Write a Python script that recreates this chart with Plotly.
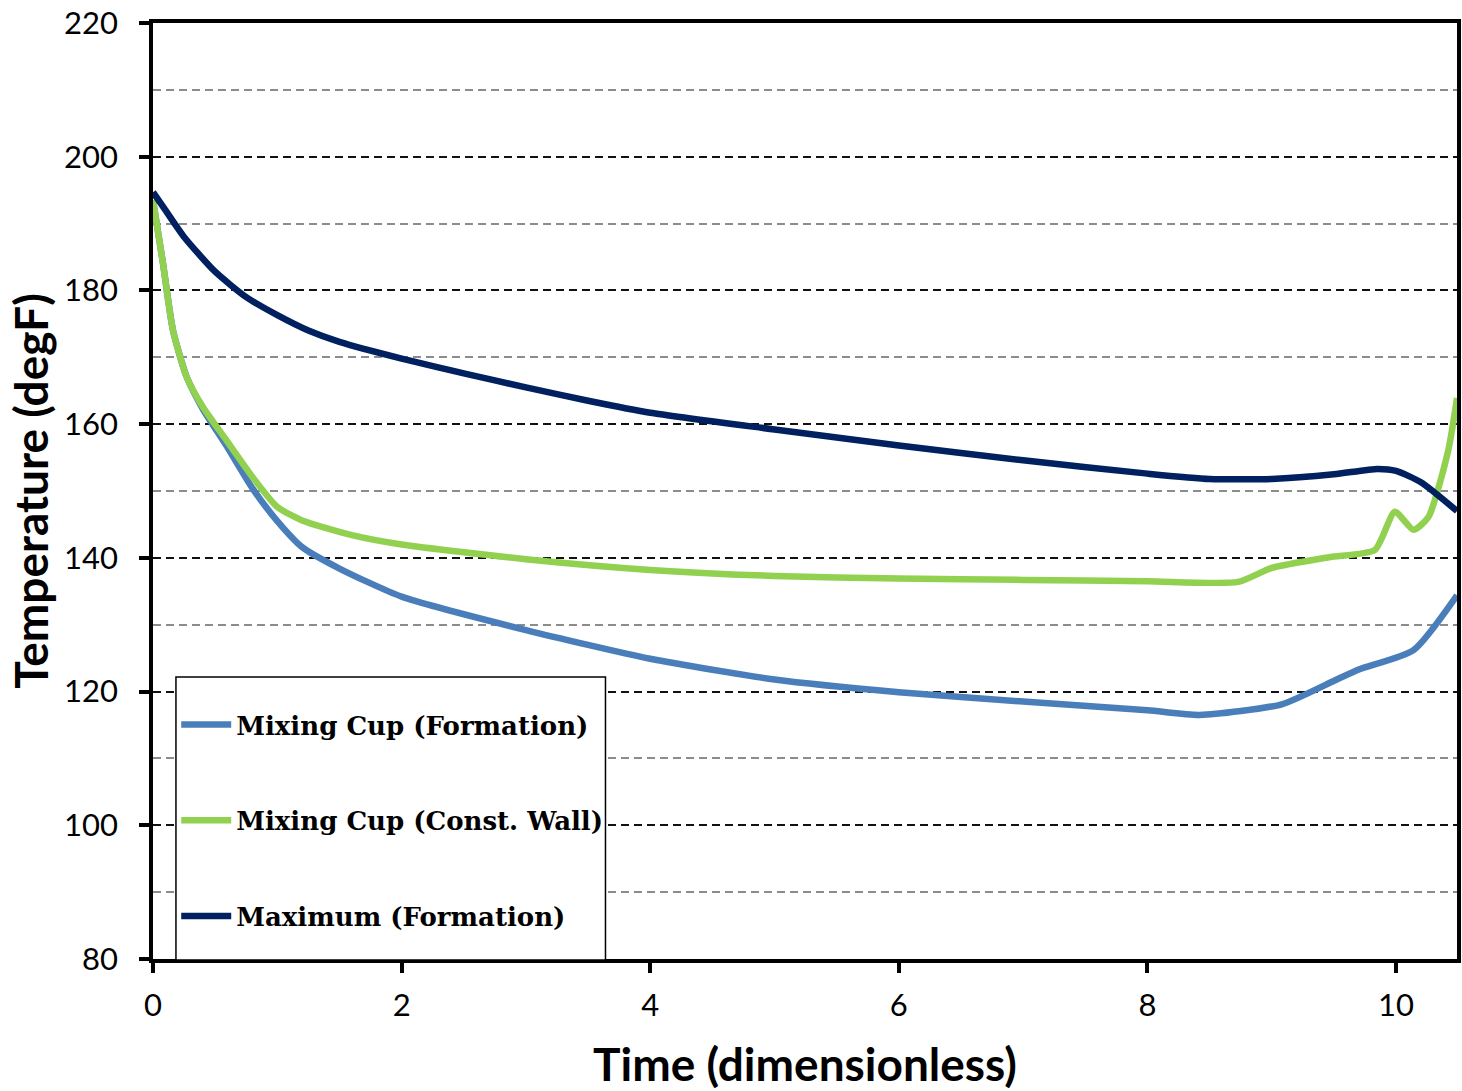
import plotly.graph_objects as go

# Maximum (Formation)
x_max = [0, 0.1, 0.25, 0.5, 0.75, 1.0, 1.25, 1.5, 2.0, 2.5, 3.0, 3.5, 4.0, 5.0, 6.0, 7.0, 8.0, 8.5, 9.0, 9.5, 9.85, 10.0, 10.2, 10.49]
y_max = [194.7, 192.0, 188.0, 182.8, 179.0, 176.3, 174.0, 172.3, 169.8, 167.6, 165.5, 163.5, 161.7, 159.2, 156.8, 154.6, 152.6, 151.8, 151.8, 152.5, 153.3, 153.0, 151.3, 147.0]

# Mixing Cup (Const. Wall)
x_cw = [0, 0.08, 0.16, 0.27, 0.4, 0.59, 0.8, 1.0, 1.2, 1.6, 2.0, 3.0, 4.0, 5.0, 6.0, 7.0, 8.0, 8.73, 9.0, 9.46, 9.83, 9.99, 10.14, 10.26, 10.42, 10.49]
y_cw = [193.5, 184.1, 174.1, 167.1, 162.6, 157.6, 152.1, 147.6, 145.6, 143.4, 142.0, 139.8, 138.2, 137.3, 136.9, 136.7, 136.5, 136.4, 138.5, 140.1, 141.2, 146.9, 144.2, 146.1, 156.1, 163.9]

# Mixing Cup (Formation)
x_mf = [0, 0.08, 0.16, 0.27, 0.4, 0.59, 0.8, 1.0, 1.2, 1.5, 2.0, 3.0, 4.0, 5.0, 6.0, 7.0, 8.0, 8.42, 9.08, 9.51, 9.7, 10.14, 10.49]
y_mf = [193.5, 184.1, 174.1, 167.1, 162.3, 156.8, 150.4, 145.5, 141.6, 138.4, 134.2, 129.2, 124.9, 121.8, 119.9, 118.5, 117.2, 116.5, 118.1, 121.7, 123.3, 126.2, 134.4]

names = ["Mixing Cup (Formation)", "Mixing Cup (Const. Wall)", "Maximum (Formation)"]
colors = ["#4a7ebb", "#92d050", "#002060"]

fig = go.Figure()
series = [(x_mf, y_mf), (x_cw, y_cw), (x_max, y_max)]
for i, ((xs, ys), n, c) in enumerate(zip(series, names, colors)):
    fig.add_trace(go.Scatter(
        x=xs, y=ys, mode="lines", name=n, legendgroup=f"g{i}",
        line=dict(color=c, width=6.5, shape="spline", smoothing=0.6),
    ))

tickfont = dict(family="Lato, Open Sans, sans-serif", size=31, color="black")
titlefont = dict(family="Lato, Open Sans, sans-serif", size=46, color="black")

# legend frame (white box over the plot)
fig.add_shape(type="rect", xref="paper", yref="paper",
              x0=0.0176, x1=0.347, y0=-0.001, y1=0.3013,
              line=dict(color="black", width=1.5), fillcolor="white", layer="above")

fig.update_layout(
    width=1462, height=1091,
    margin=dict(l=153, r=1, t=23, b=132),
    plot_bgcolor="white", paper_bgcolor="white",
    showlegend=True,
    legend=dict(
        x=0.0178, y=0.2756, xanchor="left", yanchor="top",
        bgcolor="rgba(0,0,0,0)", borderwidth=0,
        font=dict(family="DejaVu Serif", size=26, color="black", weight="bold"),
        traceorder="grouped", tracegroupgap=59, itemwidth=50,
    ),
    xaxis=dict(
        range=[0, 10.49], tickvals=[0, 2, 4, 6, 8, 10], ticktext=["0", "2", "4", "6", "8", "10"],
        showline=True, linecolor="black", linewidth=3.5, mirror=True,
        ticks="outside", ticklen=10, tickwidth=3.5, tickcolor="black",
        ticklabelstandoff=6,
        showgrid=False, zeroline=False, tickfont=tickfont,
        title=dict(text="<b>Time (dimensionless)</b>", font=titlefont, standoff=30),
    ),
    yaxis=dict(
        range=[80, 220], tickmode="linear", tick0=80, dtick=20,
        showline=True, linecolor="black", linewidth=3.5, mirror=True,
        ticks="outside", ticklen=10, tickwidth=3.5, tickcolor="black",
        ticklabelstandoff=15,
        showgrid=True, gridcolor="#111111", griddash="8px,5px", gridwidth=1.5,
        minor=dict(tick0=80, dtick=10, showgrid=True, gridcolor="#8c8c8c", griddash="8px,5px", gridwidth=1.5, ticks=""),
        zeroline=False, tickfont=tickfont,
        title=dict(text="<b>Temperature (degF)</b>", font=titlefont, standoff=2),
    ),
)

fig.write_html("out.html")
